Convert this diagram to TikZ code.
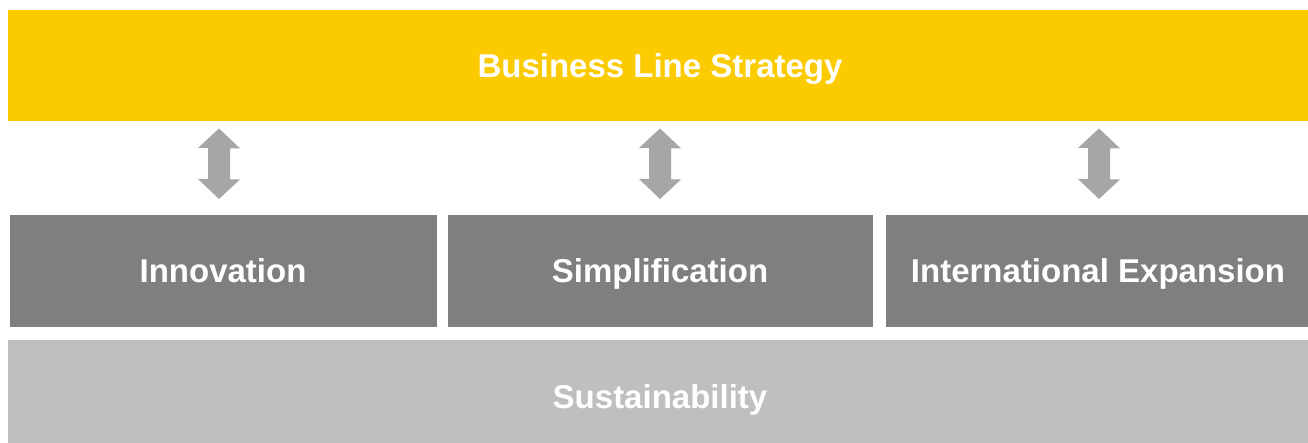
\documentclass[tikz,border=0pt]{standalone}
\usepackage{fontspec}
\setmainfont{Liberation Sans}
\usetikzlibrary{calc}
\definecolor{lineyellow}{HTML}{FBCB00}
\definecolor{pillargray}{HTML}{7F7F7F}
\definecolor{basegray}{HTML}{BFBFBF}
\definecolor{linkgray}{HTML}{A6A6A6}
\tikzset{
  band/.style={rectangle, inner sep=0pt, anchor=north west, text=white,
    font=\fontsize{33}{36}\selectfont\bfseries, text height=23.6pt, text depth=0pt},
  topband/.style={band, fill=lineyellow},
  pillar/.style={band, fill=pillargray},
  baseband/.style={band, fill=basegray},
  linkarrow/.style={fill=linkgray},
}
\begin{document}
\begin{tikzpicture}[x=1pt,y=-1pt]
  \useasboundingbox (0,0) rectangle (1308,443);
  % strategy band
  \node[topband, minimum width=1300pt, minimum height=111pt] (bls) at (8,10) {};
  \node[text=white, font=\fontsize{33}{36}\selectfont\bfseries, text height=23.6pt, text depth=0pt, inner sep=0pt] (blst) at (660,66) {Business Line Strategy};
  % three pillars
  \node[pillar, minimum width=427pt, minimum height=112pt] (inn) at (10,215) {};
  \node[pillar, minimum width=425pt, minimum height=112pt] (sim) at (448,215) {};
  \node[pillar, minimum width=422pt, minimum height=112pt] (int) at (886,215) {};
  \node[text=white, font=\fontsize{33}{36}\selectfont\bfseries, text height=23.6pt, text depth=0pt, inner sep=0pt] (innt) at (223,271) {Innovation};
  \node[text=white, font=\fontsize{33}{36}\selectfont\bfseries, text height=23.6pt, text depth=0pt, inner sep=0pt] (simt) at (660,271) {Simplification};
  \node[text=white, font=\fontsize{33}{36}\selectfont\bfseries, text height=23.6pt, text depth=0pt, inner sep=0pt] (intt) at (1098,271) {International Expansion};
  % foundation band
  \node[baseband, minimum width=1300pt, minimum height=114pt] (sus) at (8,340) {};
  \node[text=white, font=\fontsize{33}{36}\selectfont\bfseries, text height=23.6pt, text depth=0pt, inner sep=0pt] (sust) at (660,397) {Sustainability};
  % two-way links between the strategy band and each pillar
  \foreach \p/\cx in {inn/219, sim/660, int/1099} {
    \coordinate (\p top) at ($(\cx,0 |- bls.south)+(0,7)$);
    \coordinate (\p bot) at ($(\cx,0 |- \p.north)+(0,-16)$);
    \fill[linkarrow] (\p top) -- ++(21,20) -- ++(-10,0) -- ++(0,31) -- ++(10,0)
      -- (\p bot) -- ++(-21,-20) -- ++(10,0) -- ++(0,-31) -- ++(-10,0) -- cycle;
  }
\end{tikzpicture}
\end{document}
